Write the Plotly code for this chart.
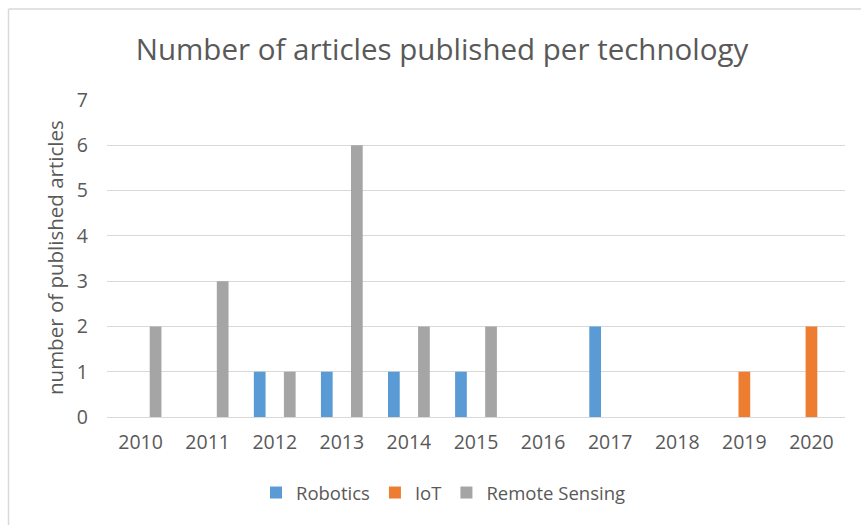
import plotly.graph_objects as go

years = ["2010", "2011", "2012", "2013", "2014", "2015", "2016", "2017", "2018", "2019", "2020"]
robotics = [0, 0, 1, 1, 1, 1, 0, 2, 0, 0, 0]
iot = [0, 0, 0, 0, 0, 0, 0, 0, 0, 1, 2]
remote_sensing = [2, 3, 1, 6, 2, 2, 0, 0, 0, 0, 0]
y_ticks = [0, 1, 2, 3, 4, 5, 6, 7]

FONT = "Open Sans"
TXT = "#595959"

fig = go.Figure()
fig.add_trace(go.Bar(x=years, y=robotics, name="Robotics", marker=dict(color="#5B9BD5", line=dict(width=0))))
fig.add_trace(go.Bar(x=years, y=iot, name="IoT", marker=dict(color="#ED7D31", line=dict(width=0))))
fig.add_trace(go.Bar(x=years, y=remote_sensing, name="Remote Sensing", marker=dict(color="#A5A5A5", line=dict(width=0))))

L, R, T, B = 107, 16, 100, 108
W, H = 861, 525
pw, ph = W - L - R, H - T - B

fig.update_layout(
    width=W, height=H,
    margin=dict(l=L, r=R, t=T, b=B),
    paper_bgcolor="white", plot_bgcolor="white",
    barmode="group", bargap=0.328, bargroupgap=0.22,
    font=dict(family=FONT, color=TXT, size=19),
    title=dict(text="Number of articles published per technology",
               x=442 / W, xref="container", xanchor="center",
               y=1 - 50 / H, yref="container", yanchor="middle",
               font=dict(family=FONT, size=29.5, color=TXT)),
    legend=dict(orientation="h", x=(256 - L) / pw, xanchor="left",
                y=(T + ph - 493) / ph, yanchor="middle",
                font=dict(family=FONT, size=18.5, color=TXT),
                itemwidth=30, traceorder="normal"),
    showlegend=True,
)
fig.update_xaxes(type="category", showgrid=False, showline=False, zeroline=False,
                 ticks="", tickfont=dict(family=FONT, size=19.5, color=TXT),
                 ticklabelstandoff=11)
fig.update_yaxes(range=[0, 7], tickvals=y_ticks, showgrid=True, gridcolor="#D9D9D9", gridwidth=1,
                 zeroline=True, zerolinecolor="#D9D9D9", zerolinewidth=1, showline=False,
                 ticks="", tickfont=dict(family=FONT, size=19.5, color=TXT),
                 ticklabelstandoff=18)

fig.add_annotation(text="number of published articles", textangle=-90,
                   x=(55 - L) / pw, xref="paper", y=(T + ph - 258) / ph, yref="paper",
                   xanchor="center", yanchor="middle", showarrow=False,
                   font=dict(family=FONT, size=20.5, color=TXT))

# chart area border (visible top and left edges)
fig.add_shape(type="line", xref="paper", yref="paper",
              x0=(8.5 - L) / pw, x1=(W + 5 - L) / pw, y0=(T + ph - 9) / ph, y1=(T + ph - 9) / ph,
              line=dict(color="#D9D9D9", width=1.5), layer="below")
fig.add_shape(type="line", xref="paper", yref="paper",
              x0=(8.5 - L) / pw, x1=(8.5 - L) / pw, y0=(T + ph - 9) / ph, y1=(T + ph - H - 5) / ph,
              line=dict(color="#D9D9D9", width=1.5), layer="below")

fig.write_html("out.html")
